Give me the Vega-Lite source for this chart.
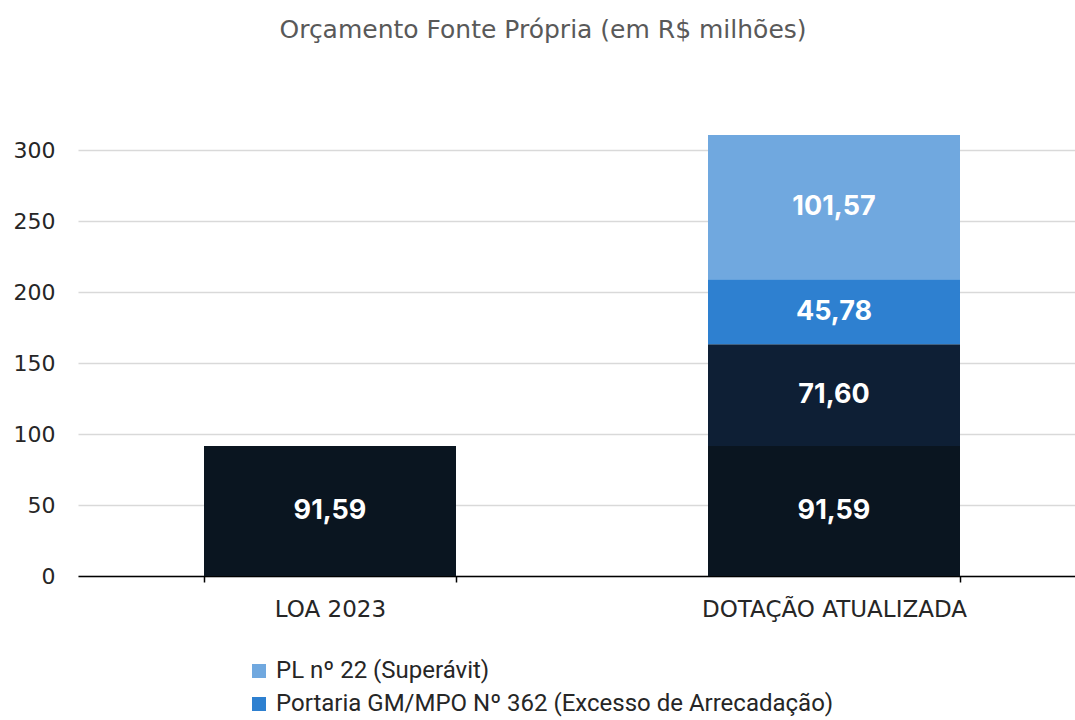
{
  "$schema": "https://vega.github.io/schema/vega-lite/v6.json",
  "autosize": {"type": "none"},
  "padding": {"left": 78, "top": 134, "right": 0, "bottom": 146},
  "width": 1008,
  "height": 442,
  "background": "white",
  "title": {
    "text": "Orçamento Fonte Própria (em R$ milhões)",
    "font": "DejaVu Sans",
    "fontSize": 25,
    "fontWeight": "normal",
    "color": "#595959",
    "anchor": "middle",
    "dx": -39,
    "offset": 91
  },
  "data": {
    "values": [
      {"cat": "LOA 2023", "series": "LOA 2023", "v": 91.59, "ord": 1},
      {"cat": "DOTAÇÃO ATUALIZADA", "series": "LOA 2023", "v": 91.59, "ord": 1},
      {"cat": "DOTAÇÃO ATUALIZADA", "series": "Crédito Suplementar", "v": 71.60, "ord": 2},
      {"cat": "DOTAÇÃO ATUALIZADA", "series": "Portaria GM/MPO Nº 362 (Excesso de Arrecadação)", "v": 45.78, "ord": 3},
      {"cat": "DOTAÇÃO ATUALIZADA", "series": "PL nº 22 (Superávit)", "v": 101.57, "ord": 4}
    ]
  },
  "transform": [
    {"stack": "v", "groupby": ["cat"], "sort": [{"field": "ord", "order": "ascending"}], "as": ["v0", "v1"]},
    {"calculate": "(datum.v0 + datum.v1) / 2", "as": "vmid"}
  ],
  "encoding": {
    "x": {
      "field": "cat",
      "type": "nominal",
      "sort": ["LOA 2023", "DOTAÇÃO ATUALIZADA"],
      "scale": {"paddingInner": 0.5, "paddingOuter": 0.25},
      "axis": {
        "title": null,
        "labelAngle": 0,
        "labelFont": "DejaVu Sans",
        "labelFontSize": 23,
        "labelColor": "#262626",
        "labelPadding": 16,
        "labelLimit": 500,
        "domainColor": "#000000",
        "domainWidth": 1.5,
        "tickColor": "#000000",
        "tickWidth": 1.5,
        "tickSize": 6,
        "tickBand": "extent",
        "grid": false
      }
    }
  },
  "layer": [
    {
      "mark": {"type": "bar", "stroke": null},
      "encoding": {
        "y": {
          "field": "v0",
          "type": "quantitative",
          "scale": {"domain": [0, 311.3], "nice": false},
          "axis": {
            "title": null,
            "values": [0, 50, 100, 150, 200, 250, 300],
            "labelFont": "DejaVu Sans",
            "labelFontSize": 22,
            "labelColor": "#262626",
            "labelPadding": 23,
            "tickSize": 0,
            "domain": false,
            "grid": true,
            "gridColor": "#d9d9d9",
            "gridWidth": 1.5
          }
        },
        "y2": {"field": "v1"},
        "color": {
          "field": "series",
          "type": "nominal",
          "scale": {
            "domain": ["PL nº 22 (Superávit)", "Portaria GM/MPO Nº 362 (Excesso de Arrecadação)", "Crédito Suplementar", "LOA 2023"],
            "range": ["#70a8df", "#2e80d0", "#0e1f35", "#0a1520"]
          },
          "legend": {
            "title": null,
            "orient": "none",
            "legendX": 169,
            "legendY": 525,
            "direction": "vertical",
            "values": ["PL nº 22 (Superávit)", "Portaria GM/MPO Nº 362 (Excesso de Arrecadação)"],
            "symbolType": "square",
            "symbolSize": 196,
            "symbolStrokeWidth": 0,
            "labelFont": "Roboto",
            "labelFontSize": 24,
            "labelColor": "#262626",
            "labelOffset": 5,
            "rowPadding": 9,
            "labelLimit": 800
          }
        }
      }
    },
    {
      "mark": {"type": "text", "color": "white", "font": "Inter", "fontSize": 27, "fontWeight": "bold", "baseline": "middle"},
      "encoding": {
        "y": {"field": "vmid", "type": "quantitative"},
        "text": {"field": "v", "type": "quantitative", "format": ".2f"}
      }
    }
  ],
  "config": {
    "view": {"stroke": null},
    "locale": {
      "number": {"decimal": ",", "thousands": ".", "grouping": [3], "currency": ["R$", ""]}
    }
  }
}
